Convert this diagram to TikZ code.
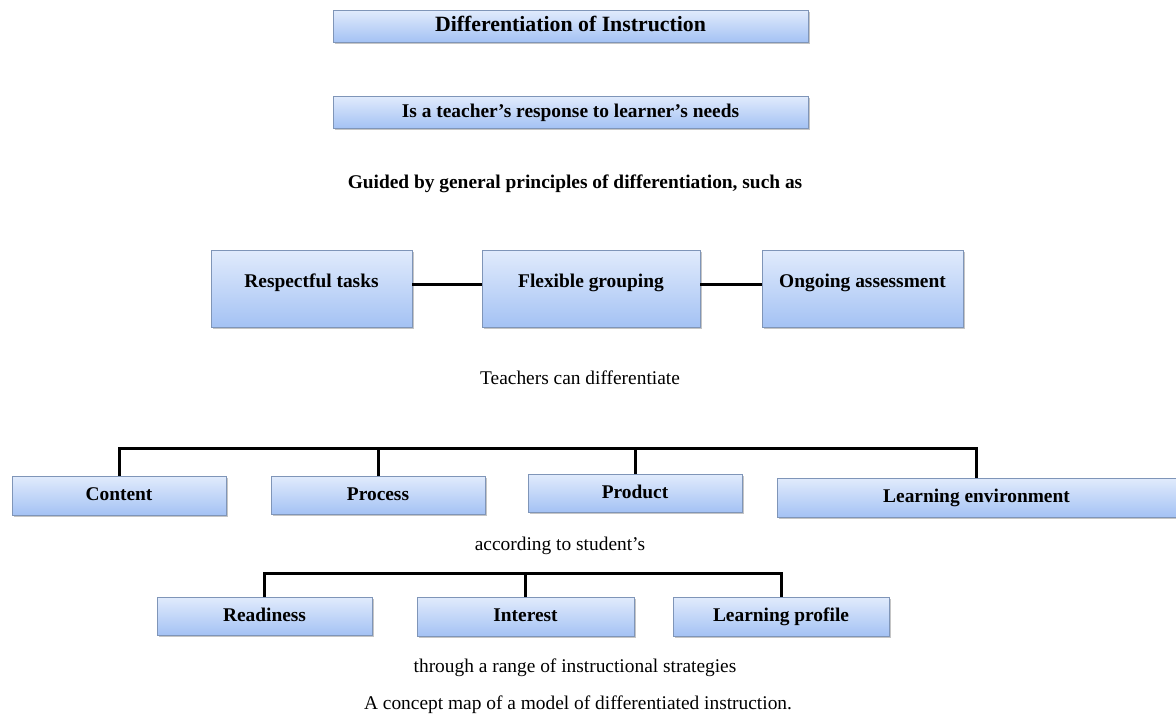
\documentclass[tikz,border=0pt]{standalone}
\usepackage{fontspec}
\setmainfont{Liberation Serif}
\usetikzlibrary{shadows}
\definecolor{boxtop}{HTML}{E1EBFC}
\definecolor{boxbot}{HTML}{A4C2F4}
\definecolor{boxline}{HTML}{7F95B8}
\tikzset{
  box/.style={draw=boxline, line width=0.4pt, top color=boxtop, bottom color=boxbot,
    drop shadow={shadow xshift=1.2pt, shadow yshift=-1.2pt, fill=black!45},
    font=\fontsize{9.7}{11}\selectfont\bfseries, inner sep=0pt, text height=7pt, text depth=2pt},
  bus/.style={line width=1.5pt, line join=miter},
  plain/.style={font=\fontsize{9.7}{11}\selectfont}
}
\begin{document}
\begin{tikzpicture}[x=0.5pt, y=-0.5pt]
  \useasboundingbox (0,0) rectangle (1176,718);
  \node[box, minimum width=237.5pt, minimum height=16pt, font=\fontsize{10.9}{12}\selectfont\bfseries] (Title) at (570.5,26) {Differentiation of Instruction};
  \node[box, minimum width=237.5pt, minimum height=16pt] (Response) at (570.5,112) {Is a teacher’s response to learner’s needs};
  \node[plain, font=\fontsize{9.7}{11}\selectfont\bfseries] (Guided) at (575,184) {Guided by general principles of differentiation, such as};
  \node[box, minimum width=100.5pt, minimum height=38.5pt, text depth=8pt] (Resp) at (311.5,288.5) {Respectful tasks};
  \node[box, minimum width=109pt, minimum height=38.5pt, text depth=8pt] (Flex) at (591,288.5) {Flexible grouping};
  \node[box, minimum width=100.5pt, minimum height=38.5pt, text depth=8pt] (Assess) at (862.5,288.5) {Ongoing assessment};
  \draw[bus] ([yshift=2pt]Resp.east) -- ([yshift=2pt]Flex.west);
  \draw[bus] ([yshift=2pt]Flex.east) -- ([yshift=2pt]Assess.west);
  \node[plain] (Teachers) at (580,378) {Teachers can differentiate};
  \node[box, minimum width=107pt, minimum height=19.5pt] (Content) at (119,495.5) {Content};
  \node[box, minimum width=107pt, minimum height=19pt] (Process) at (378,495) {Process};
  \node[box, minimum width=107pt, minimum height=19pt] (Product) at (635,493) {Product};
  \node[box, minimum width=199.5pt, minimum height=19.5pt] (Env) at (976.5,497.5) {Learning environment};
  \coordinate (Bus1) at (118,448);
  \draw[bus] (Content.north) |- (Env.north |- Bus1) -- (Env.north);
  \draw[bus] (Process.north) -- (Process.north |- Bus1);
  \draw[bus] (Product.north) -- (Product.north |- Bus1);
  \node[plain] (According) at (560,546) {according to student’s};
  \node[box, minimum width=107.5pt, minimum height=19pt] (Ready) at (264.5,616) {Readiness};
  \node[box, minimum width=108.5pt, minimum height=19.5pt] (Interest) at (525.5,616.5) {Interest};
  \node[box, minimum width=108pt, minimum height=19.5pt] (Profile) at (781,616.5) {Learning profile};
  \coordinate (Bus2) at (264,573);
  \draw[bus] (Ready.north) |- (Profile.north |- Bus2) -- (Profile.north);
  \draw[bus] (Interest.north) -- (Interest.north |- Bus2);
  \node[plain] (Through) at (575,668) {through a range of instructional strategies};
  \node[plain] (Caption) at (578,705) {A concept map of a model of differentiated instruction.};
\end{tikzpicture}
\end{document}
